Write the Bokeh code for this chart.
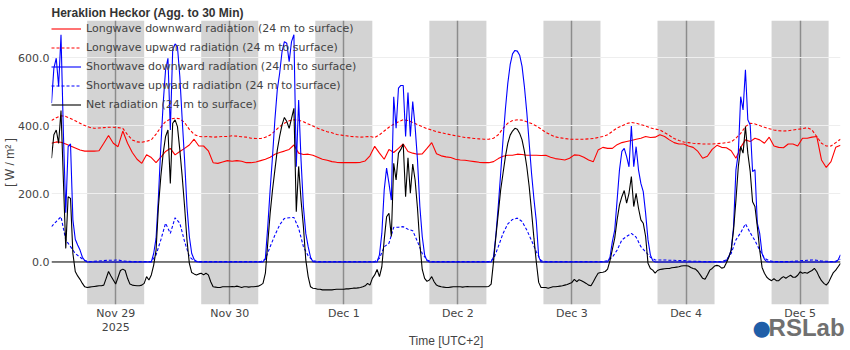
import pandas as pd
from bokeh.embed import file_html
from bokeh.models import (BoxAnnotation, ColumnDataSource, DatetimeTickFormatter, FixedTicker,
                          Legend, LegendItem, LinearAxis, NumeralTickFormatter, Range1d, Span)
from bokeh.plotting import figure
from bokeh.resources import INLINE

TITLE = "Heraklion Heckor (Agg. to 30 Min)"
LOGO_TEXT = "RSLab"
START = "2025-11-28 10:30"          # first sample (UTC+2 local time)
SERIES_NAMES = [
    "Longwave downward radiation (24 m to surface)",
    "Longwave upward radiation (24 m to surface)",
    "Shortwave downward radiation (24 m to surface)",
    "Shortwave upward radiation (24 m to surface)",
    "Net radiation (24 m to surface)",
]
DAY_TICKS = ["2025-11-29", "2025-11-30", "2025-12-01", "2025-12-02",
             "2025-12-03", "2025-12-04", "2025-12-05"]
NIGHT_EVENINGS = ["2025-11-28", "2025-11-29", "2025-11-30", "2025-12-01",
                  "2025-12-02", "2025-12-03", "2025-12-04"]
Y_TICKS = [0, 200, 400, 600]

# hourly readings (W/m2), 10:30 Nov 28 .. 08:30 Dec 5
lw_down = [
    349, 353, 352, 347, 341, 335, 329, 326, 326, 326, 327, 349, 372, 349, 339, 385, 349,
    322, 302, 290, 315, 307, 292, 308, 325, 334, 315, 325, 334, 344, 361, 341, 341, 327,
    292, 290, 294, 298, 296, 298, 296, 292, 292, 294, 298, 302, 308, 317, 322, 326, 331,
    344, 320, 316, 317, 314, 308, 302, 299, 295, 293, 292, 292, 292, 292, 293, 297, 312, 340,
    320, 302, 331, 322, 334, 347, 325, 320, 317, 318, 334, 351, 318, 312, 309, 307, 302,
    300, 299, 297, 295, 293, 292, 292, 295, 304, 311, 314, 314, 317, 316, 314, 314, 314, 313,
    314, 308, 304, 302, 300, 305, 315, 314, 308, 300, 295, 329, 337, 334, 334, 345, 351,
    354, 357, 361, 364, 369, 366, 367, 374, 369, 359, 351, 347, 347, 341, 337, 325, 305,
    311, 331, 343, 337, 336, 327, 305, 337, 359, 354, 364, 359, 349, 367, 341, 337, 336,
    347, 347, 341, 364, 364, 367, 369, 300, 278, 295, 337, 343,
]
lw_up = [
    416, 424, 430, 428, 422, 415, 408, 401, 396, 393, 394, 395, 396, 396, 395, 393, 374,
    359, 353, 352, 355, 359, 376, 396, 413, 420, 423, 421, 410, 390, 375, 369, 368, 369,
    367, 368, 369, 369, 371, 370, 368, 367, 364, 363, 363, 367, 373, 385, 398, 408, 415,
    418, 417, 412, 406, 400, 393, 388, 383, 380, 375, 373, 371, 369, 368, 367, 368, 369, 366,
    374, 385, 396, 405, 412, 418, 416, 410, 404, 398, 392, 388, 383, 380, 377, 374, 371,
    369, 366, 365, 363, 362, 361, 361, 364, 374, 393, 408, 416, 418, 417, 412, 407, 400, 391,
    381, 374, 368, 365, 363, 361, 361, 361, 361, 362, 363, 366, 369, 374, 384, 394, 400,
    407, 410, 408, 404, 400, 394, 391, 388, 380, 372, 363, 357, 353, 351, 349, 348, 347,
    347, 347, 348, 349, 351, 353, 364, 378, 398, 408, 406, 401, 396, 392, 388, 386, 385,
    386, 388, 390, 392, 395, 388, 369, 349, 341, 341, 351, 361,
]
sw_up = [
    104, 119, 133, 65, 45, 25, 14, 4, 1, 2, 3, 4, 5, 5, 6, 3, 2,
    1, 1, 1, 1, 1, 21, 65, 114, 84, 130, 114, 60, 16, 3, 1, 1, 1,
    1, 1, 1, 1, 1, 1, 1, 1, 1, 1, 1, 8, 45, 79, 109, 128, 130,
    131, 99, 45, 18, 4, 1, 1, 1, 1, 1, 1, 1, 1, 1, 1, 1, 1, 1,
    11, 45, 55, 102, 102, 104, 96, 92, 60, 25, 6, 1, 1, 1, 1, 1, 1,
    1, 1, 1, 1, 1, 1, 1, 8, 45, 84, 112, 125, 129, 119, 94, 63, 30, 4,
    1, 1, 1, 1, 1, 1, 1, 1, 1, 1, 1, 1, 1, 4, 14, 35, 65,
    75, 84, 73, 45, 30, 14, 6, 6, 6, 5, 5, 4, 4, 3, 2, 2, 1,
    1, 1, 1, 1, 6, 25, 65, 86, 112, 86, 63, 35, 11, 4, 1, 1, 1,
    1, 2, 3, 4, 5, 6, 5, 3, 2, 1, 2, 8,
]

# half-hourly readings (W/m2), 10:30 Nov 28 .. 08:30 Dec 5
sw_down = [
    467, 570, 599, 516, 668, 380, 145, 339, 347, 124, 67, 50, 35, 14, 4,
    0, 0, 0, 0, 0, 0, 0, 0, 0, 0, 0, 0, 0, 0, 0, 0, 0, 0, 0, 0, 0, 0, 0, 0, 0, 0, 0, 0,
    25, 70, 192, 339, 467, 565, 599, 388, 624, 641, 633, 545, 418, 300, 163, 75, 25, 8, 1,
    0, 0, 0, 0, 0, 0, 0, 0, 0, 0, 0, 0, 0, 0, 0, 0, 0, 0, 0, 0, 0, 0, 0, 0, 0, 0, 0, 0,
    11, 104, 212, 310, 418, 506, 555, 618, 648, 643, 589, 648, 668, 280, 476, 300, 163, 84,
    45, 14, 1,
    0, 0, 0, 0, 0, 0, 0, 0, 0, 0, 0, 0, 0, 0, 0, 0, 0, 0, 0, 0, 0, 0, 0, 0, 0, 0, 0,
    21, 84, 212, 276, 231, 182, 486, 393, 511, 519, 519, 369, 498, 369, 472, 398, 300, 163,
    75, 21, 4,
    0, 0, 0, 0, 0, 0, 0, 0, 0, 0, 0, 0, 0, 0, 0, 0, 0, 0, 0, 0, 0, 0, 0, 0, 0, 0, 0,
    15, 80, 165, 260, 360, 450, 525, 580, 612, 622, 620, 608, 575, 515, 440, 350, 260, 185,
    120, 15,
    0, 0, 0, 0, 0, 0, 0, 0, 0, 0, 0, 0, 0, 0, 0, 0, 0, 0, 0, 0, 0, 0, 0, 0, 0, 0, 0, 0, 0,
    14, 60, 94, 182, 271, 325, 334, 310, 280, 400, 280, 339, 271, 231, 207, 143, 65, 21, 4,
    0, 0, 0, 0, 0, 0, 0, 0, 0, 0, 0, 0, 0, 0, 0, 0, 0, 0, 0, 0, 0, 0, 0, 0, 0, 0, 0, 0, 0, 0,
    4, 16, 35, 104, 271, 320, 486, 447, 565, 418, 403, 266, 271, 114, 84, 25, 8, 1,
    0, 0, 0, 0, 0, 0, 0, 0, 0, 0, 0, 0, 0, 0, 0, 0, 0, 0, 0, 0, 0, 0, 0, 0, 0, 0, 0, 0, 0,
    6, 21,
]
net = [
    305, 374, 388, 349, 445, 241, 40, 192, 187, 25, -28, -41, -51, -63, -73, -75, -74, -73,
    -72, -71, -70, -70, -68, -48, -28, -41, -53, -65, -45, -25, -21, -25, -48, -65, -68, -69,
    -70, -70, -68, -63, -43, -53, -38, -9, 35, 163, 251, 320, 369, 388, 231, 408, 418, 398,
    329, 251, 163, 65, -4, -31, -35, -38, -35, -33, -38, -33, -38,
    -58, -73, -74, -75, -75, -73, -73, -73, -73, -72, -73, -71, -73, -75, -73, -73, -74, -73,
    -73, -72, -71, -68, -63, -33, 55, 143, 212, 271, 329, 369, 403, 425, 413, 393, 422, 452,
    148, 281, 182, 104, 6, -43, -73, -77, -78, -80, -80, -82, -82, -82, -82, -82, -81, -80,
    -80, -80, -80, -79, -79, -78, -77, -77, -76, -75, -73, -70, -63, -68, -48,
    -38, -22, -43, -14, 65, 133, 143, 75, 290, 241, 320, 331, 347, 192, 306, 202, 288, 241,
    158, 53, -22, -48, -57, -53, -43, -58, -68, -71, -73, -74, -75, -75, -74, -73, -73, -73,
    -73, -74, -73, -72, -73, -73, -73, -73, -73, -73, -73, -73, -72, -65, 1, 75, 143, 212,
    261, 310, 349, 373, 385, 393, 390, 378, 359, 325, 280, 222, 148, 70, 0, -60, -75,
    -75, -75, -77, -75, -73, -73, -72, -71, -70, -68, -66, -63, -60, -51, -58, -52, -55, -59,
    -63, -68, -70, -58, -45, -33, -31, -30, -28, -21, 4, 37, 70, 124, 168, 192, 210, 173,
    202, 251, 163, 202, 158, 124, 114, 75, -4, -19, -24, -33, -25, -22, -21, -20, -19, -19,
    -17, -16, -15, -14, -12, -11, -11, -12, -16, -19, -21, -28, -38, -48,
    -51, -38, -24, -19, -12, -10, -12, -18, -16, -2, 14, 35, 94, 182, 280, 339, 320, 398,
    320, 266, 177, 163, 104, 35, -16, -33, -45, -51, -55, -49, -55, -55, -48, -43, -48, -43,
    -39, -45, -45, -39, -29, -33, -31, -33, -29, -25, -19, -28, -43, -55, -63, -68, -60, -45,
    -31, -24, -14, -4,
]


def ms(ts):
    return pd.Timestamp(ts).value // 10**6


t60 = pd.date_range(START, periods=len(lw_down), freq="60min")
t30 = pd.date_range(START, periods=len(sw_down), freq="30min")
src60 = ColumnDataSource(dict(t=t60, lw_down=lw_down, lw_up=lw_up, sw_up=sw_up))
src30 = ColumnDataSource(dict(t=t30, sw_down=sw_down, net=net))

p = figure(width=850, height=350, x_axis_type="datetime", output_backend="svg",
           toolbar_location=None,
           x_range=Range1d(ms(t30[0]), ms(t30[-1])), y_range=Range1d(-125, 710),
           min_border_left=50, min_border_right=10, min_border_top=20, min_border_bottom=45)
p.outline_line_color = None
p.background_fill_color = "white"

# night shading 18:00 -> 06:00
for d in NIGHT_EVENINGS:
    s = pd.Timestamp(d) + pd.Timedelta(hours=18)
    e = s + pd.Timedelta(hours=12)
    p.add_layout(BoxAnnotation(left=ms(s), right=ms(e), fill_color="#d3d3d3", fill_alpha=1.0,
                               line_color=None, level="image"))

p.add_layout(Span(location=0, dimension="width", line_color="#000000", line_width=1,
                  level="underlay"))

styles = [
    ("lw_down", src60, "#ff0000", None),
    ("lw_up", src60, "#ff0000", "3 2"),
    ("sw_down", src30, "#0000ff", None),
    ("sw_up", src60, "#0000ff", "3 2"),
    ("net", src30, "#000000", None),
]
rends = []
for col, src, color, dash in styles:
    kw = dict(line_dash=dash) if dash else {}
    rends.append(p.line("t", col, source=src, line_color=color, line_width=1.1, **kw))

legend = Legend(items=[LegendItem(label=n, renderers=[r]) for n, r in zip(SERIES_NAMES, rends)],
                location="top_left", background_fill_alpha=0, border_line_color=None,
                margin=0, padding=5, spacing=2, glyph_width=30, glyph_height=17,
                label_height=17, label_standoff=5, label_text_font="DejaVu Sans",
                label_text_font_size="11px", label_text_color="#444444")
p.add_layout(legend)

xax = p.xaxis[0]
yax = p.yaxis[0]
xax.ticker = FixedTicker(ticks=[ms(d) for d in DAY_TICKS])
xax.formatter = DatetimeTickFormatter(
    days="%b %-d", hours="%b %-d",
    context=DatetimeTickFormatter(days="%Y", hours="%Y", months="%Y"),
    context_which="start")
yax.ticker = FixedTicker(ticks=Y_TICKS)
yax.formatter = NumeralTickFormatter(format="0.0")

for ax in (xax, yax):
    ax.axis_line_color = None
    ax.major_tick_line_color = None
    ax.minor_tick_line_color = None
    ax.major_tick_out = 0
    ax.major_tick_in = 0
    ax.major_label_text_font = "DejaVu Sans"
    ax.major_label_text_font_size = "11px"
    ax.major_label_text_color = "#444444"
    ax.axis_label_text_font = "Liberation Sans"
    ax.axis_label_text_font_size = "12px"
    ax.axis_label_text_font_style = "normal"
    ax.axis_label_text_color = "#444444"
xax.axis_label = "Time [UTC+2]"
yax.axis_label = "[ W / m² ]"
yax.major_label_standoff = 2
yax.axis_label_standoff = -2
xax.major_label_standoff = 2
xax.axis_label_standoff = -3
xax.major_label_text_line_height = 1.1

p.xgrid.grid_line_color = "#8c8c8c"
p.xgrid.grid_line_width = 1.5
p.ygrid.grid_line_color = "#eeeeee"
p.ygrid.grid_line_width = 1

p.title.text = TITLE
p.title.text_font = "Liberation Sans"
p.title.text_font_size = "12px"
p.title.text_font_style = "bold"
p.title.text_color = "#333333"
p.title.offset = 0
p.title.standoff = 2

# logo (bottom right): two label-only axes whose labels are pulled up by a negative standoff
p.extra_x_ranges = {"logo": Range1d(0, 1)}
for pos, txt, font, size, style, color, standoff in [
    (0.900, "●", "DejaVu Sans", "21px", "normal", "#1f5ea8", -35),
    (0.957, LOGO_TEXT, "Liberation Sans", "24px", "bold", "#707070", -37),
]:
    la = LinearAxis(x_range_name="logo", ticker=FixedTicker(ticks=[pos]),
                    major_label_overrides={pos: txt})
    la.axis_line_color = None
    la.major_tick_line_color = None
    la.minor_tick_line_color = None
    la.major_tick_out = 0
    la.major_tick_in = 0
    la.major_label_standoff = standoff
    la.major_label_text_font = font
    la.major_label_text_font_size = size
    la.major_label_text_font_style = style
    la.major_label_text_color = color
    p.add_layout(la, "below")

open("out.html", "w").write(file_html(p, INLINE))
